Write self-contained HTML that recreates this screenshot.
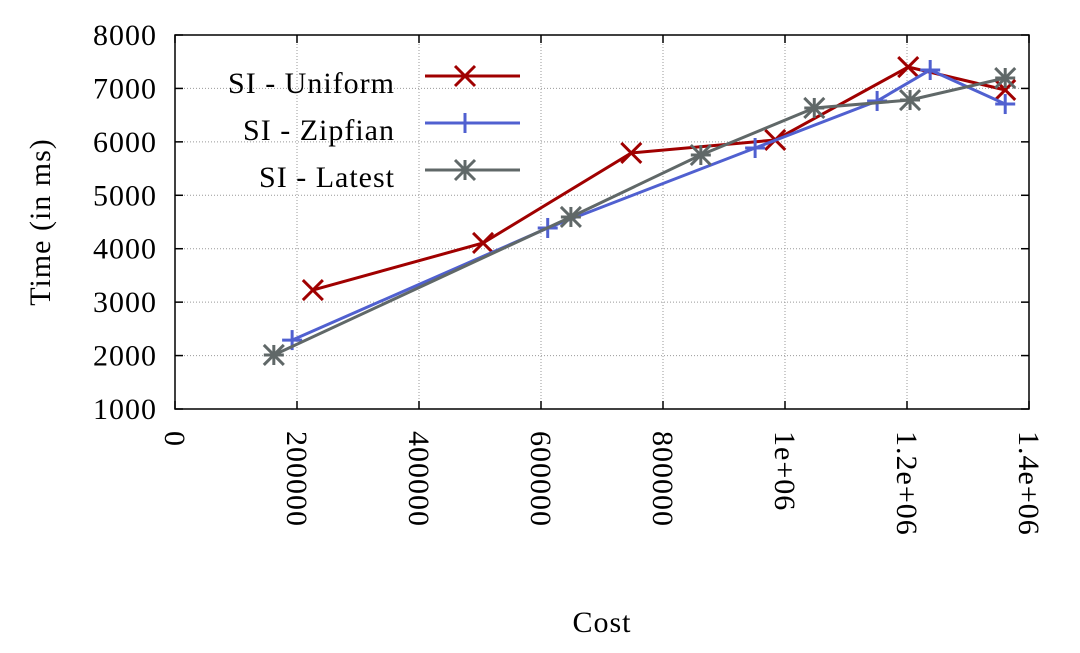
<!DOCTYPE html>
<html><head><meta charset="utf-8"><style>
body{margin:0;background:#fff}
text{font-family:"Liberation Serif",serif;font-size:30px;fill:#000;letter-spacing:1px}
</style></head><body>
<svg id="c" width="1080" height="648"></svg>
<script>
const xTicks=[0,200000,400000,600000,800000,1000000,1200000,1400000];
const xTickLabels=["0","200000","400000","600000","800000","1e+06","1.2e+06","1.4e+06"];
const yTicks=[1000,2000,3000,4000,5000,6000,7000,8000];
const uniformX=[226000,505000,748000,984000,1202000,1361000];
const uniformY=[3227,4107,5792,6035,7401,6971];
const zipfX=[192000,611000,951000,1151000,1238000,1361000];
const zipfY=[2290,4388,5885,6765,7345,6708];
const latestX=[162000,649000,862000,1048000,1205000,1361000];
const latestY=[2011,4594,5754,6634,6783,7195];
const L=175,R=1029,T=35,B=409;
const sx=v=>L+v/1400000*(R-L), sy=v=>B-(v-1000)/7000*(B-T);
const svg=document.getElementById('c');const NS='http://www.w3.org/2000/svg';
function mk(t,a,p){const e=document.createElementNS(NS,t);for(const k in a)e.setAttribute(k,a[k]);(p||svg).appendChild(e);return e;}
xTicks.forEach((v,i)=>{const x=sx(v);
 const g=mk('line',{x1:x,x2:x,y1:T,y2:B,stroke:'#999','stroke-width':1,'stroke-dasharray':'1,2'});
 
 
 mk('line',{x1:x,x2:x,y1:B,y2:B-8,stroke:'#000','stroke-width':1.5});
 mk('line',{x1:x,x2:x,y1:T,y2:T+8,stroke:'#000','stroke-width':1.5});
 const t=mk('text',{transform:`translate(${x-10},${B+22}) rotate(90)`,'text-anchor':'start'});t.textContent=xTickLabels[i];
 
 
});
yTicks.forEach(v=>{const y=sy(v);
 const g=mk('line',{x1:L,x2:R,y1:y,y2:y,stroke:'#999','stroke-width':1,'stroke-dasharray':'1,2'});
 
 
 mk('line',{x1:L,x2:L+8,y1:y,y2:y,stroke:'#000','stroke-width':1.5});
 mk('line',{x1:R,x2:R-8,y1:y,y2:y,stroke:'#000','stroke-width':1.5});
 const t=mk('text',{x:L-18,y:y+10,'text-anchor':'end'});t.textContent=v;
 
 
});
const fr=mk('rect',{x:L,y:T,width:R-L,height:B-T,fill:'none',stroke:'#000','stroke-width':1.5});


let t=mk('text',{x:602,y:632,'text-anchor':'middle'});t.textContent='Cost';


t=mk('text',{transform:'translate(50,222) rotate(-90)','text-anchor':'middle'});t.textContent='Time (in ms)';


function marker(type,x,y,c,p){const s=10;
 if(type==='x'||type==='*'){mk('line',{x1:x-s,y1:y-s,x2:x+s,y2:y+s,stroke:c,'stroke-width':3},p);mk('line',{x1:x-s,y1:y+s,x2:x+s,y2:y-s,stroke:c,'stroke-width':3},p);}
 if(type==='+'||type==='*'){mk('line',{x1:x-s,y1:y,x2:x+s,y2:y,stroke:c,'stroke-width':3},p);mk('line',{x1:x,y1:y-s,x2:x,y2:y+s,stroke:c,'stroke-width':3},p);}
}
const series=[['SI - Uniform',uniformX,uniformY,'#a00000','x',76,'series-uniform'],['SI - Zipfian',zipfX,zipfY,'#5060d0','+',123,'series-zipfian'],['SI - Latest',latestX,latestY,'#606868','*',170,'series-latest']];
series.forEach(([name,xs,ys,c,m,ly,dn])=>{
 const g=mk('g',{});
 
 
 mk('polyline',{points:xs.map((v,i)=>sx(v)+','+sy(ys[i])).join(' '),fill:'none',stroke:c,'stroke-width':3},g);
 xs.forEach((v,i)=>marker(m,sx(v),sy(ys[i]),c,g));
 const lg=mk('g',{});
 
 
 const tt=mk('text',{x:395,y:ly+17,'text-anchor':'end','font-size':'31'},lg);tt.textContent=name;
 mk('line',{x1:425,x2:520,y1:ly,y2:ly,stroke:c,'stroke-width':3},lg);
 marker(m,465,ly,c,lg);
});
</script>
</body></html>
